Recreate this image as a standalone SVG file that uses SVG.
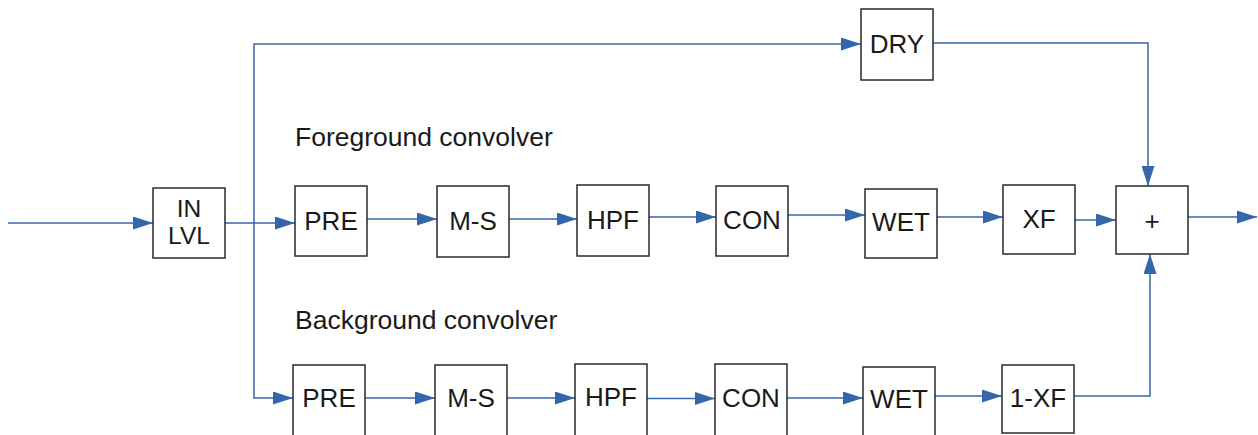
<svg xmlns="http://www.w3.org/2000/svg" width="1258" height="435" viewBox="0 0 1258 435">
<style>
.box{fill:#fff;stroke:#2a2a2a;stroke-width:1.5}
.lbl{font-family:"Liberation Sans",Arial,sans-serif;font-size:26px;fill:#1a1a1a;text-anchor:middle}
.sm{font-size:24.5px}
.title{font-family:"Liberation Sans",Arial,sans-serif;font-size:26.5px;fill:#1a1a1a}
.wire{fill:none;stroke:#3767a8;stroke-width:1.5}
.arr{marker-end:url(#ah)}
</style>
<defs>
<marker id="ah" markerUnits="userSpaceOnUse" markerWidth="20" markerHeight="13" refX="20" refY="6.5" orient="auto">
<path d="M0,0 L20,6.5 L0,13 z" fill="#3366aa"/>
</marker>
</defs>
<rect width="1258" height="435" fill="#fff"/>
<g id="connectors">
<path class="wire arr" d="M8,223 H153"/>
<path class="wire arr" d="M225,223 H295"/>
<path class="wire arr" d="M254,223 V44 H861"/>
<path class="wire arr" d="M254,223 V398 H293"/>
<path class="wire arr" d="M933,43 H1148 V186"/>
<path class="wire arr" d="M367,219 H437"/>
<path class="wire arr" d="M509,219 H577"/>
<path class="wire arr" d="M649,217 H716"/>
<path class="wire arr" d="M788,215 H865"/>
<path class="wire arr" d="M937,217 H1003"/>
<path class="wire arr" d="M1075,220 H1116"/>
<path class="wire arr" d="M1188,217 H1257"/>
<path class="wire arr" d="M365,398 H435"/>
<path class="wire arr" d="M507,398 H575"/>
<path class="wire arr" d="M647,398.5 H715"/>
<path class="wire arr" d="M787,398 H863"/>
<path class="wire arr" d="M935,396 H1002"/>
<path class="wire arr" d="M1074,396 H1150 V254"/>
</g>
<g id="labels">
<text class="title" x="295" y="146">Foreground convolver</text>
<text class="title" x="295" y="329">Background convolver</text>
</g>
<g id="inlvl"><rect class="box" x="153" y="188" width="72" height="70"/><text class="lbl sm" x="189" y="216.5">IN</text><text class="lbl sm" x="189" y="243.5">LVL</text></g>
<g id="dry"><rect class="box" x="861" y="9" width="72" height="71"/><text class="lbl" x="897" y="52.5">DRY</text></g>
<g id="fg-pre"><rect class="box" x="295" y="186" width="72" height="70"/><text class="lbl" x="331" y="230">PRE</text></g>
<g id="fg-ms"><rect class="box" x="437" y="186" width="72" height="71"/><text class="lbl" x="473" y="230">M-S</text></g>
<g id="fg-hpf"><rect class="box" x="577" y="185" width="72" height="71"/><text class="lbl" x="613" y="229">HPF</text></g>
<g id="fg-con"><rect class="box" x="716" y="186" width="72" height="70"/><text class="lbl" x="752" y="229">CON</text></g>
<g id="fg-wet"><rect class="box" x="865" y="189" width="72" height="69"/><text class="lbl" x="901" y="230.5">WET</text></g>
<g id="fg-xf"><rect class="box" x="1003" y="185" width="72" height="69"/><text class="lbl" x="1039" y="228">XF</text></g>
<g id="sum"><rect class="box" x="1116" y="186" width="72" height="68"/><text class="lbl" x="1152" y="230">+</text></g>
<g id="bg-pre"><rect class="box" x="293" y="365" width="72" height="72"/><text class="lbl" x="329" y="406.5">PRE</text></g>
<g id="bg-ms"><rect class="box" x="435" y="365" width="72" height="72"/><text class="lbl" x="471" y="407">M-S</text></g>
<g id="bg-hpf"><rect class="box" x="575" y="364" width="72" height="72"/><text class="lbl" x="611" y="406">HPF</text></g>
<g id="bg-con"><rect class="box" x="715" y="364" width="72" height="72"/><text class="lbl" x="751" y="406.5">CON</text></g>
<g id="bg-wet"><rect class="box" x="863" y="367" width="72" height="70"/><text class="lbl" x="899" y="408">WET</text></g>
<g id="bg-1xf"><rect class="box" x="1002" y="365" width="72" height="68"/><text class="lbl" x="1038" y="406.5">1-XF</text></g>
</svg>
